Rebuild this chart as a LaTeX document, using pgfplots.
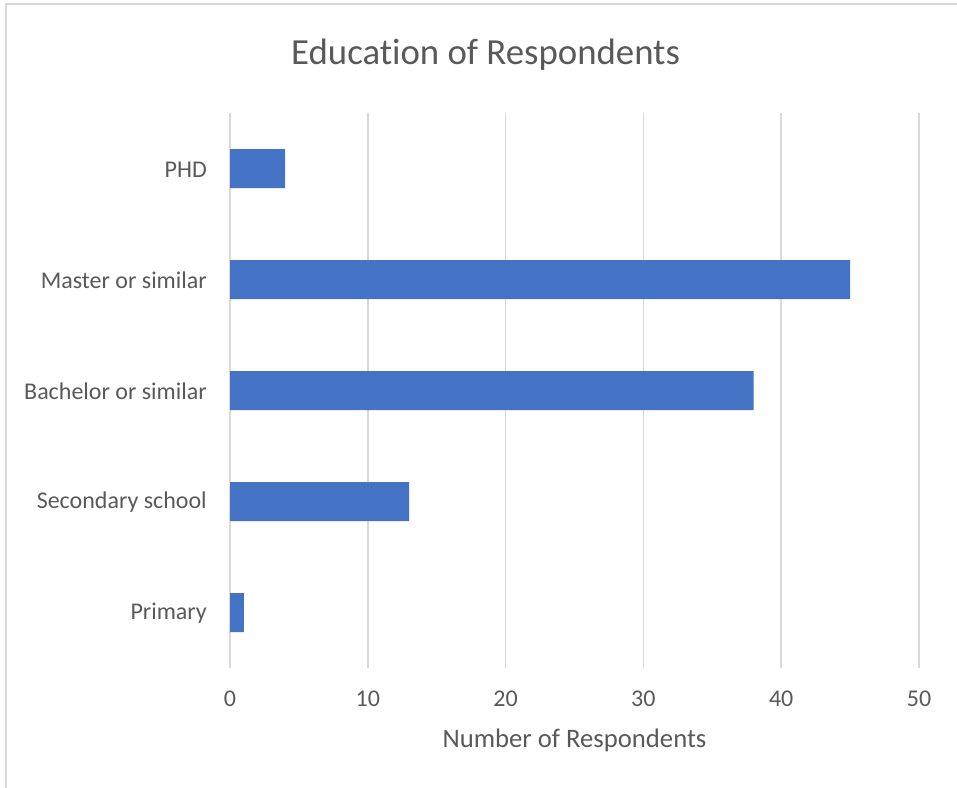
\documentclass[border=0pt]{standalone}
\usepackage{fontspec}
\setmainfont[Ligatures=NoCommon]{Carlito}
\usepackage{pgfplots}
\pgfplotsset{compat=1.18}
\definecolor{barblue}{HTML}{4472C4}
\definecolor{txtgray}{HTML}{595959}
\definecolor{gridgray}{HTML}{D9D9D9}
\begin{document}
\begin{tikzpicture}
\useasboundingbox (0pt,0pt) rectangle (957pt,787pt);
\draw[gridgray, line width=1.5pt] (6pt,-2pt) -- (6pt,783pt) -- (960pt,783pt);
\begin{axis}[
  at={(230pt,119pt)}, anchor=south west,
  scale only axis, width=689pt, height=555pt,
  xmin=0, xmax=50, ymin=-0.5, ymax=4.5,
  xtick={0,10,20,30,40,50},
  ytick={0,1,2,3,4},
  yticklabels={Primary,Secondary school,Bachelor or similar,Master or similar,PHD},
  major tick length=0pt,
  axis line style={draw=none},
  xmajorgrids, grid style={gridgray, line width=1.5pt},
  /pgf/number format/assume math mode=true,
  tick label style={font=\fontsize{24}{28}\selectfont, text=txtgray},
  xticklabel style={anchor=center, yshift=-31pt},
  yticklabel style={anchor=east, inner sep=0pt, xshift=-23pt, yshift=-1pt},
  title={Education of Respondents},
  title style={font=\fontsize{36.8}{42}\selectfont, text=txtgray, at={(axis description cs:0.371,1.094)}, anchor=center},
  xlabel={Number of Respondents},
  xlabel style={font=\fontsize{26.7}{31}\selectfont, text=txtgray, at={(axis description cs:0.5,-0.1297)}, anchor=center},
]
\addplot[xbar, fill=barblue, draw=none, bar width=39pt] coordinates {(1,0) (13,1) (38,2) (45,3) (4,4)};
\end{axis}
\end{tikzpicture}
\end{document}
